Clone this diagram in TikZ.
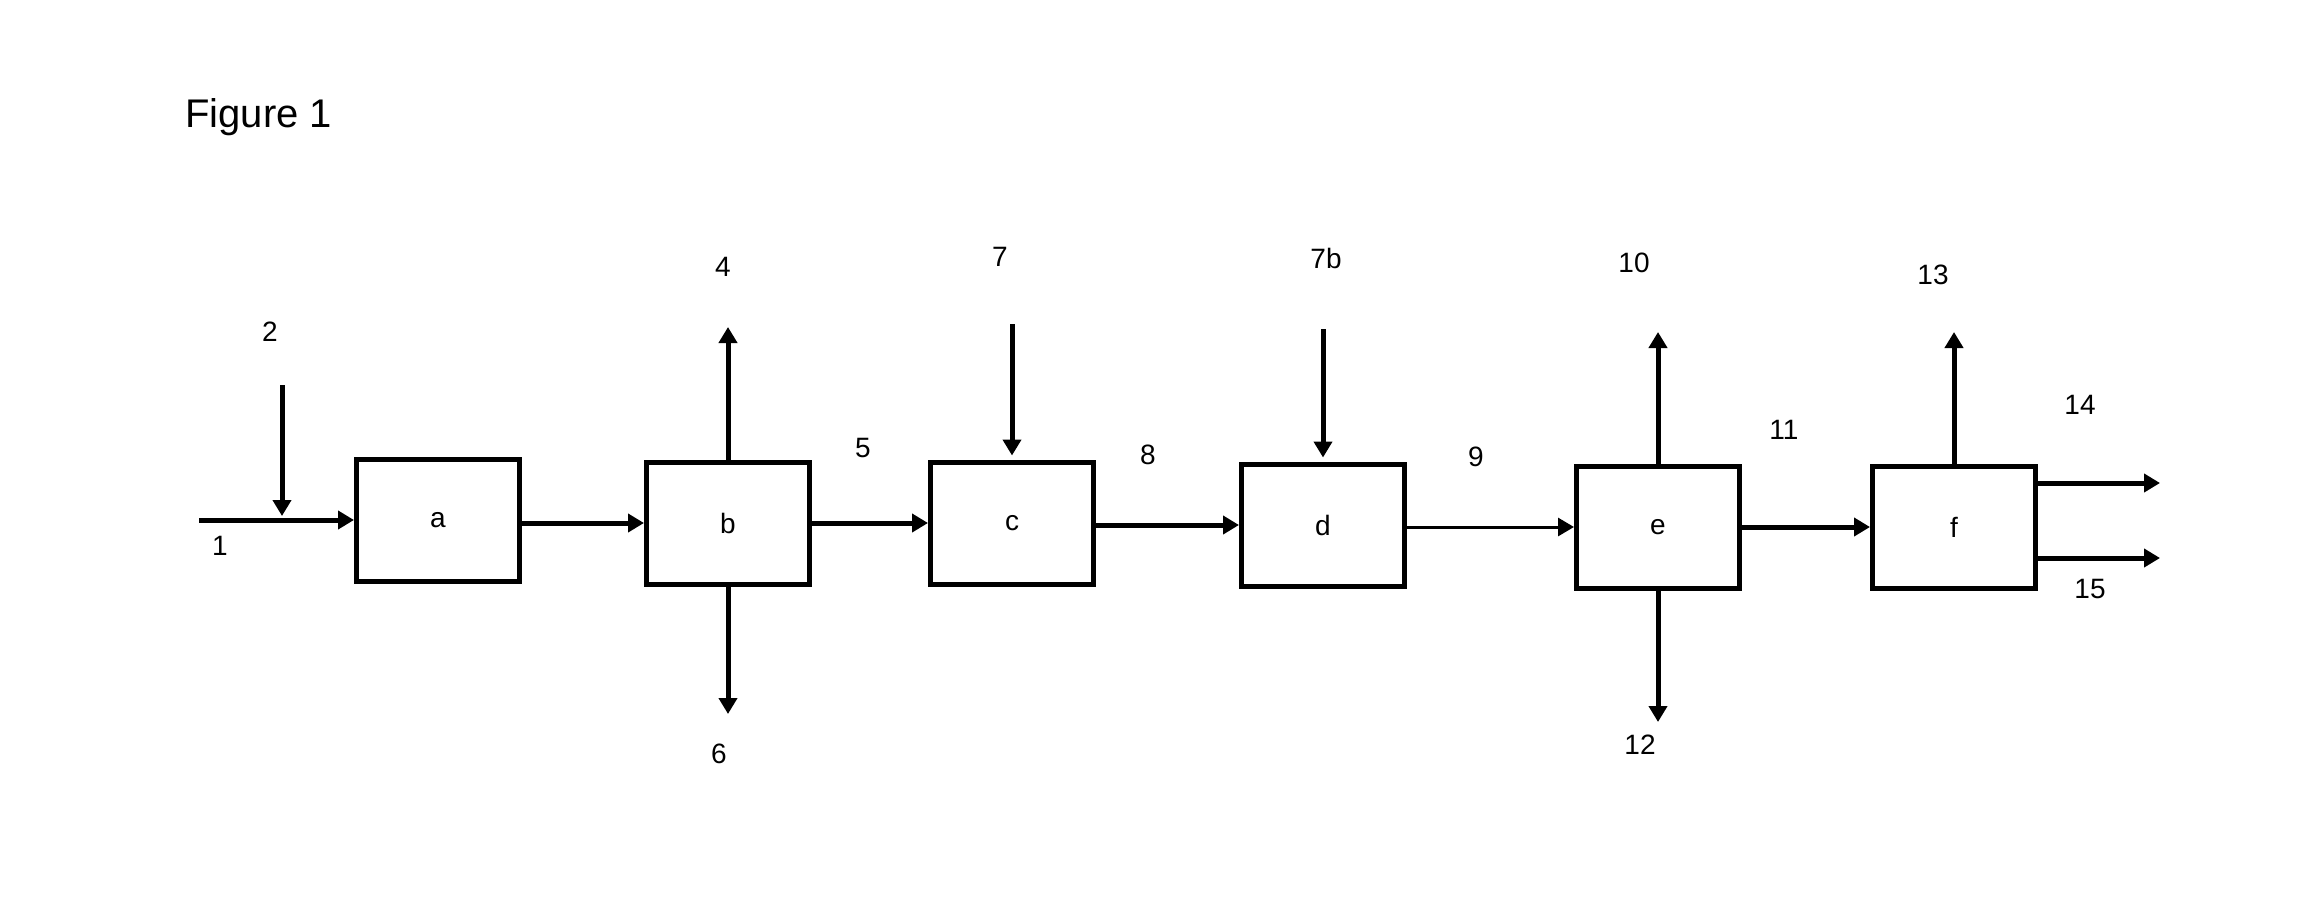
\documentclass[tikz,border=0pt]{standalone}
\usepackage{fontspec}
\setmainfont{Liberation Sans}
\usetikzlibrary{arrows.meta}
\begin{document}
\begin{tikzpicture}[x=1pt,y=-1pt,
  unit/.style={draw,line width=5pt,minimum width=163pt,minimum height=122pt,inner sep=0pt,font=\fontsize{28}{32}\selectfont},
  lab/.style={inner sep=0pt,font=\fontsize{28}{32}\selectfont},
  arr/.style={line width=5pt,-{Triangle[length=16pt,width=18pt]}},
  thinarr/.style={line width=3pt,-{Triangle[length=16pt,width=18pt]}}]
\useasboundingbox (0,0) rectangle (2314,907);
\node[anchor=base west,inner sep=0pt,font=\fontsize{40}{46}\selectfont] (fig) at (185,127) {Figure 1};
% units
\node[unit] (a) at (438,520) {a};
\node[unit] (b) at (728,523) {b};
\node[unit] (c) at (1012,523) {c};
\node[unit] (d) at (1323,525) {d};
\node[unit] (e) at (1658,527) {e};
\node[unit] (f) at (1954,527) {f};
% free ends
\coordinate (in1) at (199,520);
\coordinate (s2) at (282,385);
\coordinate (j2) at (282,516);
\coordinate (o4) at (728,327);
\coordinate (o6) at (728,714);
\coordinate (s7) at (1012,324);
\coordinate (s7b) at (1323,329);
\coordinate (o10) at (1658,332);
\coordinate (o12) at (1658,722);
\coordinate (o13) at (1954,332);
\coordinate (o14) at (2160,483);
\coordinate (o15) at (2160,558);
% connectors
\draw[arr] (in1) -- (a);
\draw[arr] (s2) -- (j2);
\draw[arr] (a.east |- b) -- (b);
\draw[arr] (b) -- (o4);
\draw[arr] (b) -- (o6);
\draw[arr] (b) -- (c);
\draw[arr,shorten >=4pt] (s7) -- (c);
\draw[arr] (c.east |- d) -- (d);
\draw[arr,shorten >=4pt] (s7b) -- (d);
\draw[thinarr] (d.east |- e) -- (e);
\draw[arr] (e) -- (o10);
\draw[arr] (e) -- (o12);
\draw[arr] (e) -- (f);
\draw[arr] (f) -- (o13);
\draw[arr] (f.east |- o14) -- (o14);
\draw[arr] (f.east |- o15) -- (o15);
% stream labels
\node[lab] (l1) at (220,546) {1};
\node[lab] (l2) at (270,332) {2};
\node[lab] (l4) at (723,267) {4};
\node[lab] (l5) at (863,448) {5};
\node[lab] (l6) at (719,754) {6};
\node[lab] (l7) at (1000,257) {7};
\node[lab] (l8) at (1148,455) {8};
\node[lab] (l7b) at (1326,258) {7b};
\node[lab] (l9) at (1476,457) {9};
\node[lab] (l10) at (1634,263) {10};
\node[lab] (l11) at (1784,430) {11};
\node[lab] (l12) at (1640,745) {12};
\node[lab] (l13) at (1933,275) {13};
\node[lab] (l14) at (2080,405) {14};
\node[lab] (l15) at (2090,589) {15};
\end{tikzpicture}
\end{document}
